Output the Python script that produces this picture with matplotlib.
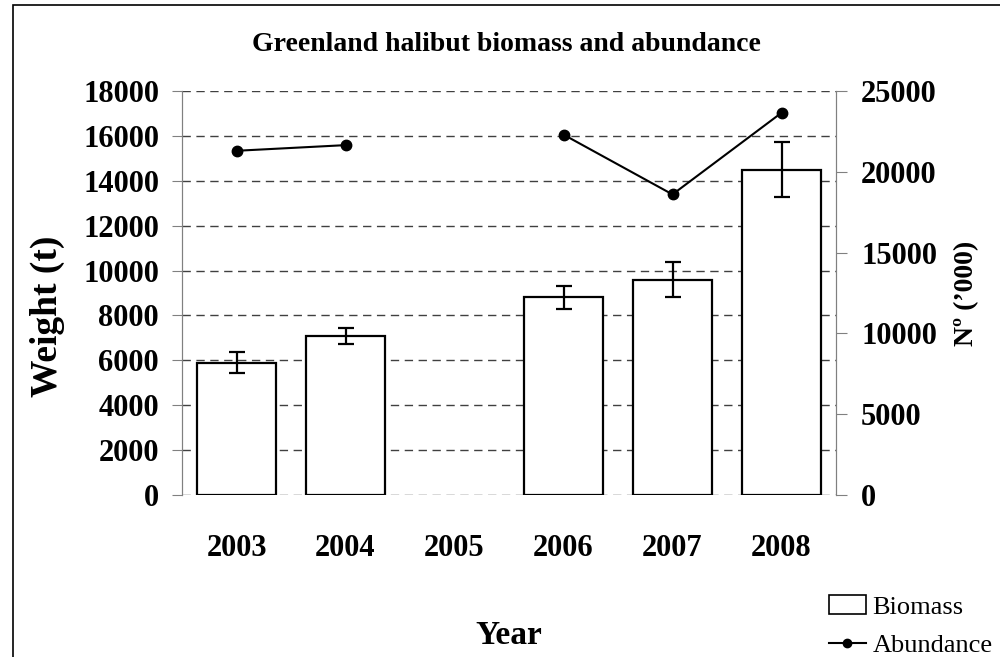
import matplotlib.pyplot as plt
import matplotlib.patches as mpatches
from matplotlib.lines import Line2D
import numpy as np

plt.rcParams['font.family'] = ['Liberation Serif', 'DejaVu Serif']

years = ['2003', '2004', '2005', '2006', '2007', '2008']
biomass = [5900, 7100, np.nan, 8800, 9600, 14500]
biomass_err = [450, 360, np.nan, 530, 770, 1210]
abundance = [21300, 21650, np.nan, 22300, 18600, 23650]

fig = plt.figure(figsize=(10, 6.57), dpi=100)
ax = fig.add_axes([0.182, 0.2466, 0.654, 0.6149])
ax2 = ax.twinx()

x = np.arange(len(years))
ax.bar(x, biomass, width=0.725, color='white', edgecolor='black',
       linewidth=1.6, zorder=3)
ax.errorbar(x, biomass, yerr=biomass_err, fmt='none', ecolor='black',
            elinewidth=1.6, capsize=5.5, capthick=1.6, zorder=4)

ax2.plot(x, abundance, color='black', marker='o', markersize=7.5, linewidth=1.5)

ax.set_xlim(-0.5, 5.5)
ax.set_ylim(0, 18000)
ax.set_yticks(np.arange(0, 18001, 2000))
ax2.set_ylim(0, 25000)
ax2.set_yticks(np.arange(0, 25001, 5000))

ax.yaxis.grid(True, linestyle=(0, (6, 4)), color='#404040', linewidth=1)
ax.set_axisbelow(True)

for a in (ax, ax2):
    a.spines['top'].set_visible(False)
    a.spines['bottom'].set_visible(False)
    a.spines['left'].set_color('#808080')
    a.spines['right'].set_color('#808080')

ax.set_xticks(x)
ax.set_xticklabels(years, fontsize=22, fontweight='bold')
ax.tick_params(axis='x', length=0, pad=28)
ax.tick_params(axis='y', direction='out', length=7.5, color='#808080',
               labelsize=22, pad=9)
ax2.tick_params(axis='y', direction='out', length=8, color='#808080',
                labelsize=22, pad=10)
for lab in ax.get_yticklabels() + ax2.get_yticklabels():
    lab.set_fontweight('bold')

ax.set_ylabel('Weight (t)', fontsize=27, fontweight='bold', va='center')
ax.yaxis.set_label_coords(-0.206, 0.443)
ax2.set_ylabel('Nº (’000)', fontsize=20, fontweight='bold', labelpad=12)
ax.set_xlabel('Year', fontsize=24, fontweight='bold', labelpad=41)

fig.text(0.506, 0.932, 'Greenland halibut biomass and abundance', ha='center',
         va='center', fontsize=20, fontweight='bold')

# outer chart frame
fig.patches.append(mpatches.Rectangle((0.013, -0.1), 1.2, 1.092, transform=fig.transFigure,
                                      fill=False, edgecolor='black', linewidth=1.2))

handles = [mpatches.Patch(facecolor='white', edgecolor='black', linewidth=1.2),
           Line2D([0], [0], color='black', marker='o', markersize=6, linewidth=1.5)]
fig.legend(handles, ['Biomass', 'Abundance'], loc='lower left',
           bbox_to_anchor=(0.805, -0.036), frameon=False, fontsize=19,
           handlelength=1.4, handletextpad=0.25, labelspacing=0.55)

fig.savefig('out.png', dpi=100)
